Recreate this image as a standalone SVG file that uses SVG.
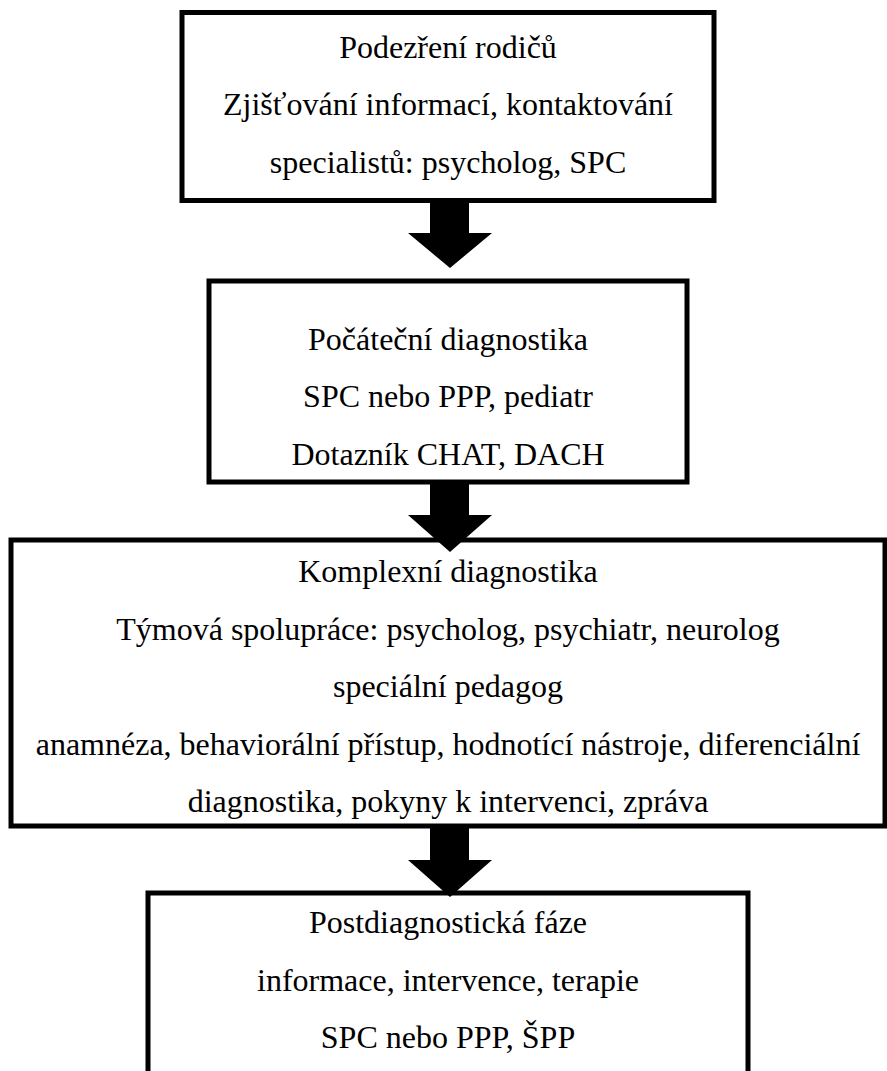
<svg xmlns="http://www.w3.org/2000/svg" width="887" height="1071" viewBox="0 0 887 1071">
<style>
.box{fill:#fff;stroke:#000;stroke-width:5}
.t{font-family:"Liberation Serif","Times New Roman",serif;font-size:32px;fill:#000;text-anchor:middle}
.arr{fill:#000;stroke:none}
</style>
<rect width="887" height="1071" fill="#fff"/>
<g id="node1">
<rect class="box" x="182" y="12.5" width="532" height="188"/>
<text class="t" x="448" y="58">Podezření rodičů</text>
<text class="t" x="448" y="115">Zjišťování informací, kontaktování</text>
<text class="t" x="448" y="173">specialistů: psycholog, SPC</text>
</g>
<g id="node2">
<rect class="box" x="209" y="281" width="478" height="201"/>
<text class="t" x="448" y="350">Počáteční diagnostika</text>
<text class="t" x="448" y="407">SPC nebo PPP, pediatr</text>
<text class="t" x="448" y="465">Dotazník CHAT, DACH</text>
</g>
<g id="node3">
<rect class="box" x="11" y="540" width="874" height="286"/>
<text class="t" x="448" y="582">Komplexní diagnostika</text>
<text class="t" x="448" y="640">Týmová spolupráce: psycholog, psychiatr, neurolog</text>
<text class="t" x="448" y="697">speciální pedagog</text>
<text class="t" x="448" y="755">anamnéza, behaviorální přístup, hodnotící nástroje, diferenciální</text>
<text class="t" x="448" y="812">diagnostika, pokyny k intervenci, zpráva</text>
</g>
<g id="node4">
<rect class="box" x="148" y="893" width="600" height="200"/>
<text class="t" x="448" y="933">Postdiagnostická fáze</text>
<text class="t" x="448" y="991">informace, intervence, terapie</text>
<text class="t" x="448" y="1048">SPC nebo PPP, ŠPP</text>
</g>
<g id="connectors">
<path class="arr" d="M430,202 H469 V233 H492 L450,268 L408,233 H430 Z"/>
<path class="arr" d="M430,484 H469 V515 H492 L450,552 L408,515 H430 Z"/>
<path class="arr" d="M430,828 H469 V860 H492 L450,897 L408,860 H430 Z"/>
</g>
</svg>
